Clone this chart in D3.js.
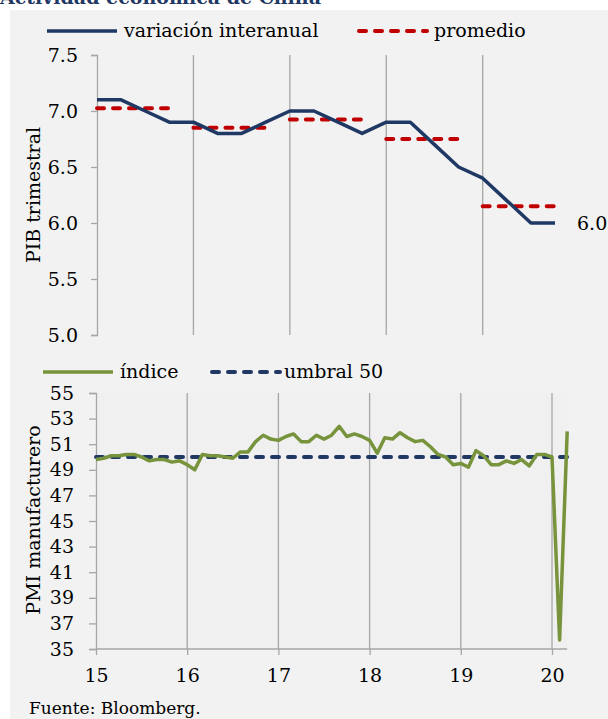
<!DOCTYPE html>
<html><head><meta charset="utf-8">
<script src="https://cdn.jsdelivr.net/npm/d3@7/dist/d3.min.js"></script>
<style>
html,body{margin:0;padding:0;background:#fff;}
svg{display:block;}
svg text{font-family:"DejaVu Serif",serif;}
</style></head>
<body><svg id="c" width="608" height="719"></svg>
<script>
// ---------- data ----------
const gdpQuarterIndex = d3.range(20); // 2015T1 .. 2019T4
const gdpValues = [7.1,7.1,7.0,6.9, 6.9,6.8,6.8,6.9, 7.0,7.0,6.9,6.8, 6.9,6.9,6.7,6.5, 6.4,6.2,6.0,6.0];
const gdpYears = [2015,2016,2017,2018,2019];
const gdpAverages = [7.025,6.85,6.925,6.75,6.15];
const gdpTicks = [5.0,5.5,6.0,6.5,7.0,7.5];

const pmiValues = [
 49.8,49.9,50.1,50.1,50.2,50.2,50.0,49.7,49.8,49.8,49.6,49.7,
 49.4,49.0,50.2,50.1,50.1,50.0,49.9,50.4,50.4,51.2,51.7,51.4,
 51.3,51.6,51.8,51.2,51.2,51.7,51.4,51.7,52.4,51.6,51.8,51.6,
 51.3,50.3,51.5,51.4,51.9,51.5,51.2,51.3,50.8,50.2,50.0,49.4,
 49.5,49.2,50.5,50.1,49.4,49.4,49.7,49.5,49.8,49.3,50.2,50.2,
 50.0,35.7,52.0];
const pmiThreshold = 50;
const pmiTicks = [35,37,39,41,43,45,47,49,51,53,55];
const xYears = [2015,2016,2017,2018,2019,2020];
const xTickLabels = ["15","16","17","18","19","20"];

const navy = "#1f3864", red = "#c00000", green = "#77933c", grid = "#a6a6a6";
const FONT = "DejaVu Serif";
const FS = 19;
const svg = d3.select("#c");

// panel
svg.append("rect").attr("x",10).attr("y",10).attr("width",598).attr("height",709).attr("fill","#f2f2f2");
svg.append("text").attr("x",0).attr("y",4).attr("font-size",19).attr("font-weight","bold")
  .attr("font-family",FONT).attr("fill",navy).text("Actividad económica de China");

function styleAxis(ax){
  ax.attr("font-family",FONT);
  ax.select(".domain").attr("stroke",grid).attr("stroke-width",1.3);
  ax.selectAll(".tick line").attr("stroke",grid).attr("stroke-width",1.3);
  ax.selectAll("text").attr("font-size",FS).attr("fill","#000").attr("font-family",FONT);
}

// ---------- top chart ----------
const xq = d3.scaleLinear().domain([0,19]).range([97,555]);
const yg = d3.scaleLinear().domain([5,7.5]).range([335,55]);

const gT = svg.append("g");
gT.selectAll("line.g").data([4,8,12,16]).join("line")
  .attr("x1",d=>xq(d)).attr("x2",d=>xq(d)).attr("y1",yg(7.5)).attr("y2",yg(5))
  .attr("stroke",grid).attr("stroke-width",1.3);
const yAxT = d3.axisLeft(yg).tickValues(gdpTicks).tickFormat(d3.format(".1f")).tickSize(6).tickPadding(13);
const axT = gT.append("g").attr("transform",`translate(${xq(0)},0)`).call(yAxT);
styleAxis(axT);

gT.selectAll("line.avg").data(gdpAverages).join("line")
  .attr("x1",(d,i)=>xq(i*4)).attr("x2",(d,i)=>xq(i*4+3))
  .attr("y1",d=>yg(d)).attr("y2",d=>yg(d))
  .attr("stroke",red).attr("stroke-width",4).attr("stroke-dasharray","7,9").attr("stroke-linecap","round");
gT.append("path").datum(gdpValues)
  .attr("d",d3.line().x((d,i)=>xq(gdpQuarterIndex[i])).y(d=>yg(d)))
  .attr("fill","none").attr("stroke",navy).attr("stroke-width",3.5).attr("stroke-linejoin","round");
gT.append("text").attr("x",577).attr("y",yg(gdpValues[19])).attr("dy","0.35em")
  .attr("font-size",FS).attr("font-family",FONT).text(gdpValues[19].toFixed(1));
gT.append("text").attr("transform",`translate(40,195) rotate(-90)`)
  .attr("text-anchor","middle").attr("font-size",FS).attr("font-family",FONT).text("PIB trimestral");

// top legend
const lg1 = svg.append("g").attr("transform","translate(0,31)");
lg1.append("line").attr("x1",47).attr("x2",117).attr("stroke",navy).attr("stroke-width",3.5);
lg1.append("text").attr("x",124).attr("dy","0.32em").attr("font-size",FS).attr("font-family",FONT).text("variación interanual");
lg1.append("line").attr("x1",359).attr("x2",427).attr("stroke",red).attr("stroke-width",4)
  .attr("stroke-dasharray","7,9").attr("stroke-linecap","round");
lg1.append("text").attr("x",434).attr("dy","0.32em").attr("font-size",FS).attr("font-family",FONT).text("promedio");

// ---------- bottom chart ----------
const xm = d3.scaleLinear().domain([2015,2020]).range([96,552]);
const yp = d3.scaleLinear().domain([35,55]).range([649,393]);
const pmiX = (i)=> 2015 + i/12;
const right = xm(2015+62/12);

const gB = svg.append("g");
gB.append("rect").attr("x",xm(2015)).attr("y",yp(55)).attr("width",right-xm(2015)).attr("height",yp(35)-yp(55)).attr("fill","#f0f0f0");
gB.selectAll("line.g").data(xYears.slice(1)).join("line")
  .attr("x1",d=>xm(d)).attr("x2",d=>xm(d)).attr("y1",yp(55)).attr("y2",yp(35))
  .attr("stroke",grid).attr("stroke-width",1.3);
const yAxB = d3.axisLeft(yp).tickValues(pmiTicks).tickFormat(d3.format("d")).tickSize(7).tickPadding(15);
const axB = gB.append("g").attr("transform",`translate(${xm(2015)},0)`).call(yAxB);
styleAxis(axB);

const xAxB = d3.axisBottom(xm).tickValues(xYears).tickFormat((d,i)=>xTickLabels[i]).tickSize(6).tickPadding(14).tickSizeOuter(0);
const axX = gB.append("g").attr("transform",`translate(0,${yp(35)})`).call(xAxB);
styleAxis(axX);
axX.select(".domain").attr("d",`M${xm(2015)},0H${right}`);

gB.append("line").attr("x1",xm(2015)).attr("x2",right).attr("y1",yp(pmiThreshold)).attr("y2",yp(pmiThreshold))
  .attr("stroke",navy).attr("stroke-width",4).attr("stroke-dasharray","7,9").attr("stroke-linecap","round");
gB.append("path").datum(pmiValues)
  .attr("d",d3.line().x((d,i)=>xm(pmiX(i))).y(d=>yp(d)))
  .attr("fill","none").attr("stroke",green).attr("stroke-width",3.5).attr("stroke-linejoin","round");
gB.append("text").attr("transform",`translate(40,520) rotate(-90)`)
  .attr("text-anchor","middle").attr("font-size",FS).attr("font-family",FONT).text("PMI manufacturero");

const lg2 = svg.append("g").attr("transform","translate(0,372)");
lg2.append("line").attr("x1",43).attr("x2",113).attr("stroke",green).attr("stroke-width",3.5);
lg2.append("text").attr("x",120).attr("dy","0.32em").attr("font-size",FS).attr("font-family",FONT).text("índice");
lg2.append("line").attr("x1",212).attr("x2",280).attr("stroke",navy).attr("stroke-width",4)
  .attr("stroke-dasharray","7,9").attr("stroke-linecap","round");
lg2.append("text").attr("x",284).attr("dy","0.32em").attr("font-size",FS).attr("font-family",FONT).text("umbral 50");

svg.append("text").attr("x",29).attr("y",714).attr("font-size",17).attr("font-family",FONT).text("Fuente: Bloomberg.");
</script></body></html>
